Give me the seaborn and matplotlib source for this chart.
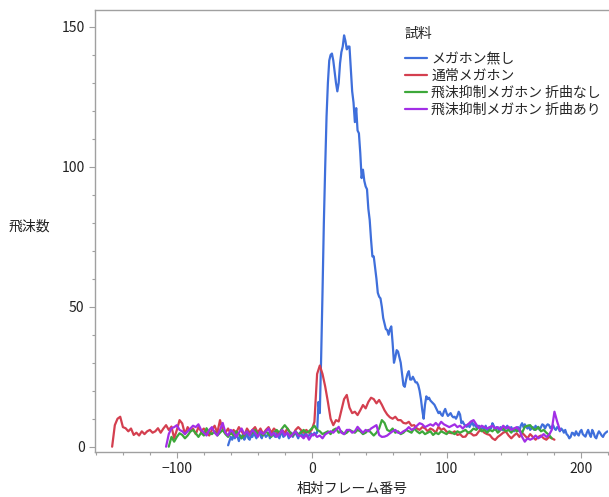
import numpy as np
import pandas as pd
import matplotlib
matplotlib.use("Agg")
import matplotlib.pyplot as plt
from matplotlib.ticker import MultipleLocator
import seaborn as sns

# series names (legend order)
samples = ["メガホン無し", "通常メガホン", "飛沫抑制メガホン 折曲なし", "飛沫抑制メガホン 折曲あり"]
colors = ["#3f6fdb", "#d43f4f", "#3da83a", "#a22ee6"]

# メガホン無し: frames -62.. step 1
blue_start, blue_step = -62, 1
blue_vals = [
    0.5, 2, 3.5, 2.5, 4, 3, 5, 3.5, 2, 4,
    3, 4.5, 2.5, 3.5, 5, 3, 2.5, 4, 3.5, 5,
    4, 3, 4.5, 5.5, 4, 3, 5, 4.5, 3.5, 4,
    5, 3, 4.5, 5.5, 4, 3.5, 5, 4, 3, 4.5,
    5, 3.5, 4, 5.5, 4.5, 3, 4, 5, 3.5, 4.5,
    5, 4, 3, 4.5, 5.5, 4, 3.5, 5, 4.5, 3.5,
    4, 5, 4.5, 4, 5, 4.5, 5, 16, 12, 32,
    55, 80, 100, 118, 130, 138, 140, 140.5, 138, 134,
    130, 127, 130, 137, 141, 143, 147, 145, 142, 143,
    143, 135, 127, 123, 116, 121, 113, 112, 105, 96,
    99, 95, 93, 92, 85, 81, 74, 68, 68, 64,
    60, 55, 53.6, 53, 50, 46, 44, 42, 41.7, 40,
    42, 43, 37, 30, 32, 34.5, 34, 32, 30, 26,
    22, 21.4, 24, 26, 27, 24, 24, 25, 24, 23,
    23, 22, 20, 17, 13, 10, 15, 18, 17, 17.5,
    16.5, 16, 15.5, 15, 14, 13, 12, 12.5, 11.5, 11,
    12.5, 13.5, 12, 11, 11.5, 12, 11, 10.5, 10.7, 10,
    11, 12.5, 11.5, 8.4, 9, 8, 7.5, 7.1, 8, 7,
    8, 8.9, 7.5, 8, 7, 6.6, 7.5, 6, 6.5, 7,
    6, 7.5, 6, 5.5, 7, 6.5, 8.4, 7.5, 6, 7,
    6.6, 5.5, 7, 6.6, 5.8, 7.1, 6.5, 7.5, 6, 6.5,
    7, 6, 5.5, 6.5, 6, 7, 5.5, 7.5, 8.4, 7,
    8, 7.1, 6.5, 7.5, 6, 6.6, 7, 6, 7.5, 6.5,
    7.1, 6, 7, 8, 7.7, 6.5, 7.5, 8, 7.7, 6.6,
    7, 7.7, 6.5, 6, 7, 6.6, 5.5, 6.5, 6, 5,
    6, 4.5, 4, 3, 3.5, 5, 4.8, 4, 5.5, 4.5,
    4, 5.4, 6, 4.5, 4, 3.6, 5, 6, 4.5, 3.5,
    6, 5, 3.5, 3, 4.5, 5.5, 4.8, 4, 3.5, 4.5,
    5, 5.4, 5.5,
]

# 通常メガホン: frames -148.. step 2
red_start, red_step = -148, 2
red_vals = [
    0, 7.7, 10, 10.7, 7, 6.6, 5.5, 6.5, 4.2, 5,
    4, 5.5, 4.5, 5.5, 6, 5, 5.5, 6.6, 5, 6.5,
    7.7, 6, 7.2, 3, 6, 9.5, 8.3, 4.5, 7, 5.5,
    6.5, 4.5, 7, 5.5, 6.5, 5, 4, 6, 7.5, 5,
    9.5, 6, 5, 6.5, 4.5, 6, 5, 7, 5.5, 4,
    6.5, 5, 6, 7, 5, 6.5, 4.5, 6, 7, 5,
    6.5, 5.5, 4.5, 6, 5, 6.5, 5, 4, 6, 7,
    6, 5, 6, 5, 6, 8.9, 26, 29, 26, 21.5,
    16, 10, 7.7, 9.5, 9, 13, 17, 18.5, 14, 12,
    12.5, 11.3, 13, 14.9, 13.7, 16, 17.5, 17, 15.5, 16.7,
    15, 13, 11.5, 10.5, 10, 10.7, 9.5, 9.5, 8.5, 8.3,
    8.9, 7.5, 7.7, 6.5, 6, 7, 6.6, 5.5, 6.5, 6,
    5, 7.1, 6, 6.5, 5.4, 5, 4.8, 5.5, 4.2, 4.5,
    3.5, 3.6, 5, 4.8, 4, 4.2, 5.5, 6, 5, 4.5,
    4.2, 3, 2.4, 3.5, 4.2, 5, 5.4, 4, 3, 4,
    4.8, 3.5, 5, 4, 3, 4.5, 3.5, 2.5, 3.5, 4,
    3, 2.5, 3.5, 3, 2.5,
]

# 飛沫抑制メガホン 折曲なし: frames -106.. step 2
green_start, green_step = -106, 2
green_vals = [
    0, 3.5, 1.8, 3.5, 4.8, 4.2, 3, 4, 5.4, 6,
    4.8, 3.5, 5, 4, 6.6, 5, 4.5, 5.5, 4, 5,
    6, 4.5, 3.5, 5, 4, 5.5, 4.5, 3, 4.5, 5.5,
    4, 5, 6, 4.5, 5, 4, 5.5, 4.5, 3.5, 5,
    6, 5, 6.5, 7.7, 6.5, 5, 4, 5.5, 4.5, 5,
    6, 5, 5.5, 6.5, 7.5, 6, 5.5, 4.5, 5, 5.5,
    4.5, 6, 6.5, 5, 5.5, 4.5, 5, 6, 5.5, 5,
    6, 5.5, 4.5, 5, 6, 5, 4, 5, 6.5, 9.5,
    8.5, 6, 5.5, 6.5, 5, 5.5, 4.5, 5, 6, 5.5,
    5, 6.5, 5.5, 4.8, 5.5, 4.5, 5, 5.5, 4.2, 5,
    4.5, 5.5, 5, 4.5, 5.5, 5, 4.5, 5.5, 5, 5.5,
    6, 5, 5.5, 6.5, 6, 7.1, 5.5, 6, 5, 6,
    5.5, 6.5, 5, 6, 6.5, 5.5, 6, 5, 6.5, 5.5,
    6, 5, 7.1, 7.5, 7.7, 6.5, 6, 7, 5.5, 6,
    5, 4.2, 3,
]

# 飛沫抑制メガホン 折曲あり: frames -108.. step 2
purple_start, purple_step = -108, 2
purple_vals = [
    0, 4.5, 6.6, 7, 7.7, 6, 5.5, 4.5, 5.5, 6.5,
    7.5, 7, 8, 6, 5, 4, 6, 7, 5, 4,
    6, 8.5, 5, 4, 6, 5, 3.5, 5, 6.5, 4.5,
    5.5, 4, 6, 5, 3.5, 5.5, 4.5, 5.5, 6.5, 4,
    5, 3.5, 4.5, 6, 4, 5, 3.5, 4.5, 5.5, 4,
    3.9, 3, 4.4, 2.5, 4.2, 4.5, 3.5, 4, 3, 4.4,
    5, 5.5, 5, 6, 7.1, 5, 4.5, 6, 6, 5,
    5.5, 7.1, 6, 5, 6, 5.5, 6.5, 7.1, 7.7, 4.2,
    3.5, 3.6, 4, 4.8, 5.5, 6, 5, 4.8, 5.5, 6,
    7, 6, 6.5, 7.5, 8.4, 8, 7, 7.5, 8, 7.5,
    8.5, 7.5, 8.9, 8, 7.5, 7, 7.5, 8, 7, 7.5,
    6.5, 7.5, 8, 9, 9.5, 8, 6.6, 7.5, 7, 6.5,
    7, 7.5, 6.5, 7, 6, 7.5, 6.5, 7.1, 6, 6.5,
    7, 6, 3.5, 1.8, 3, 2.5, 3, 4, 3, 3.6,
    4.5, 3.5, 4.2, 6, 12.5, 9, 6,
]

series = [
    (blue_start, blue_step, blue_vals),
    (red_start, red_step, red_vals),
    (green_start, green_step, green_vals),
    (purple_start, purple_step, purple_vals),
]

frames = []
for name, (start, step, vals) in zip(samples, series):
    frames.append(pd.DataFrame({
        "相対フレーム番号": start + step * np.arange(len(vals)),
        "飛沫数": vals,
        "試料": name,
    }))
df = pd.concat(frames, ignore_index=True)

sns.set_theme(style="white")
plt.rcParams["font.family"] = ["Noto Sans CJK JP", "DejaVu Sans"]
plt.rcParams["font.size"] = 10

fig = plt.figure(figsize=(6.09, 4.97), dpi=100)
ax = fig.add_axes([0.156, 0.0905, 0.843, 0.889])

sns.lineplot(data=df, x="相対フレーム番号", y="飛沫数", hue="試料",
             hue_order=samples, palette=dict(zip(samples, colors)),
             estimator=None, linewidth=1.6, ax=ax)

ax.set_xlim(-160.7, 220)
ax.set_ylim(-1.9, 156)
ax.xaxis.set_major_locator(MultipleLocator(100))
ax.xaxis.set_minor_locator(MultipleLocator(20))
ax.yaxis.set_major_locator(MultipleLocator(50))
ax.yaxis.set_minor_locator(MultipleLocator(10))

for s in ax.spines.values():
    s.set_color("#a0a0a0")
    s.set_linewidth(1.0)
ax.spines["right"].set_visible(False)
ax.tick_params(which="major", direction="out", length=4, width=0.8,
               color="#a0a0a0", labelsize=10, labelcolor="#222222",
               bottom=True, left=True)
ax.tick_params(which="minor", direction="out", length=2.5, width=0.8,
               color="#a0a0a0", bottom=True, left=True)

ax.set_xlabel("相対フレーム番号", fontsize=10, color="#222222")
ax.set_ylabel("飛沫数", fontsize=10, color="#222222", rotation=0,
              ha="center", va="center")
ax.yaxis.set_label_coords(-0.127, 0.51)
ax.xaxis.set_label_coords(0.5, -0.068)

leg = ax.legend(title="試料", loc="upper left", bbox_to_anchor=(0.59, 0.978),
                frameon=False, fontsize=10, title_fontsize=10,
                handlelength=1.6, handletextpad=0.3, labelspacing=0.22,
                borderpad=0, alignment="left")
leg._legend_box.sep = 8

fig.savefig("out.png", dpi=100)
